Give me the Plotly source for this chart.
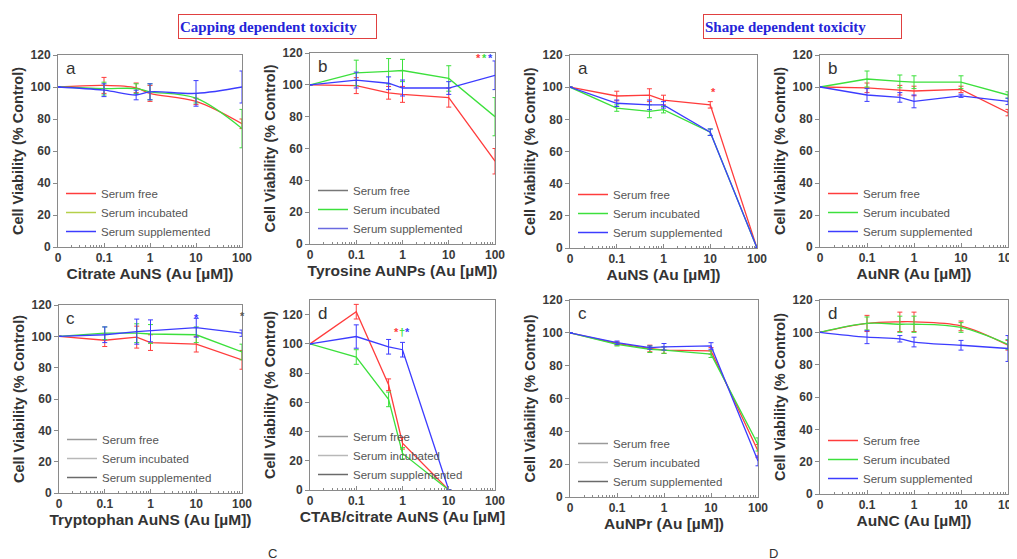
import math
import plotly.graph_objects as go

W, H = 1017, 559
OFF = 8  # page body margin of the html page

# ---------------- data ----------------
doses = [0, 0.1, 0.5, 1, 10, 100]
doses_ctab = [0, 0.1, 0.5, 1, 10]
tick_vals_labels = ["0", "0.1", "1", "10", "100"]
series_names = ["Serum free", "Serum incubated", "Serum supplemented"]
series_colors = ["#ff3c3c", "#3ce03c", "#3c3cff"]

# Capping dependent toxicity
citrate_free = [100, 101, 99.5, 96, 91, 77]
citrate_inc = [100, 99, 99, 97, 93, 74]
citrate_sup = [100, 98, 95, 97, 96, 100]
citrate_free_err = [0, 5, 3, 5, 2, 3]
citrate_inc_err = [0, 4, 3, 5, 3, 12]
citrate_sup_err = [0, 4, 3, 5, 8, 10]

tyrosine_free = [100, 99.5, 95, 94, 92, 52]
tyrosine_inc = [100, 107.5, 108.5, 109, 104, 80]
tyrosine_sup = [100, 103, 101, 98, 98, 106]
tyrosine_free_err = [0, 5, 4, 5, 6, 8]
tyrosine_inc_err = [0, 8, 8, 7, 8, 12]
tyrosine_sup_err = [0, 5, 4, 5, 4, 9]

tryptophan_free = [100, 97.5, 99.5, 96, 95, 85]
tryptophan_inc = [100, 102, 102, 101.5, 101, 90]
tryptophan_sup = [100, 101, 103, 103.5, 105.5, 102]
tryptophan_free_err = [0, 4, 7, 5, 5, 6]
tryptophan_inc_err = [0, 4, 6, 6, 5, 5]
tryptophan_sup_err = [0, 5, 8, 7, 6, 2]

ctab_free = [100, 122, 72, 32, 0]
ctab_inc = [100, 91, 62, 25, 0]
ctab_sup = [100, 105, 98, 96, 0]
ctab_free_err = [0, 5, 4, 4, 0]
ctab_inc_err = [0, 5, 5, 4, 0]
ctab_sup_err = [0, 8, 5, 5, 0]

# Shape dependent toxicity
auns_free = [100, 94.5, 95, 92, 89, 0]
auns_inc = [100, 87, 85, 86, 72, 0]
auns_sup = [100, 90, 89, 89, 72, 0]
auns_free_err = [0, 3, 4, 3, 2, 0]
auns_inc_err = [0, 2, 4, 2, 2, 0]
auns_sup_err = [0, 2, 3, 2, 2, 0]

aunr_free = [100, 99.5, 98, 97.5, 98.5, 84]
aunr_inc = [100, 105, 103.5, 103, 103, 95]
aunr_sup = [100, 95, 93.5, 91, 94.5, 91]
aunr_free_err = [0, 3, 3, 3, 2, 2]
aunr_inc_err = [0, 5, 4, 4, 4, 2]
aunr_sup_err = [0, 4, 3, 4, 1, 2]

aunpr_free = [100, 93.5, 90.5, 89.5, 89, 28]
aunpr_inc = [100, 93, 90, 89.5, 87, 32]
aunpr_sup = [100, 94, 91, 91.5, 92, 22]
aunpr_free_err = [0, 1, 2, 2, 2, 4]
aunpr_inc_err = [0, 1, 2, 2, 2, 4]
aunpr_sup_err = [0, 1, 1, 2, 2, 3]

aunc_free = [100, 105.5, 106.5, 106.5, 104, 92]
aunc_inc = [100, 105.5, 105, 105, 103, 92.5]
aunc_sup = [100, 97, 96, 94, 92, 90]
aunc_free_err = [0, 5, 6, 6, 3, 3]
aunc_inc_err = [0, 4, 5, 5, 3, 3]
aunc_sup_err = [0, 4, 2, 3, 3, 8]

# significance marks: (panel index, dose, viability, symbol, colour)
sig_marks = [
    (1, 45, 117, "*", "#ff3c3c"), (1, 60, 117, "*", "#3ce03c"), (1, 78, 117, "*", "#3c3cff"),
    (2, 12, 97, "*", "#ff3c3c"),
    (4, 10, 112, "*", "#3c3cff"), (4, 100, 113, "*", "#555555"),
    (5, 0.76, 108, "*", "#ff3c3c"), (5, 0.98, 108, "\u2020", "#3ce03c"), (5, 1.26, 108, "*", "#3c3cff"),
]

# ---------------- panel definitions ----------------
gray_leg = ["#9a9a9a", "#b8b8b8", "#6a6a6a"]
panels = [
    dict(x=doses, ys=[citrate_free, citrate_inc, citrate_sup],
         es=[citrate_free_err, citrate_inc_err, citrate_sup_err],
         title="Citrate AuNS (Au [\u00b5M])", letter="a", spline=True,
         leg=["#ff3c3c", "#b5d04a", "#3c3cff"], yr=[0, 120], box=(58, 242, 55, 247)),
    dict(x=doses, ys=[tyrosine_free, tyrosine_inc, tyrosine_sup],
         es=[tyrosine_free_err, tyrosine_inc_err, tyrosine_sup_err],
         title="Tyrosine AuNPs (Au [\u00b5M])", letter="b", spline=False,
         leg=["#777777", "#3ce03c", "#6a6ae0"], yr=[0, 120], box=(310, 495, 53, 244)),
    dict(x=doses, ys=[auns_free, auns_inc, auns_sup],
         es=[auns_free_err, auns_inc_err, auns_sup_err],
         title="AuNS (Au [\u00b5M])", letter="a", spline=False,
         leg=series_colors, yr=[0, 120], box=(570, 757, 55, 248)),
    dict(x=doses, ys=[aunr_free, aunr_inc, aunr_sup],
         es=[aunr_free_err, aunr_inc_err, aunr_sup_err],
         title="AuNR (Au [\u00b5M])", letter="b", spline=False,
         leg=series_colors, yr=[0, 120], box=(820, 1008, 55, 247)),
    dict(x=doses, ys=[tryptophan_free, tryptophan_inc, tryptophan_sup],
         es=[tryptophan_free_err, tryptophan_inc_err, tryptophan_sup_err],
         title="Tryptophan AuNS (Au [\u00b5M])", letter="c", spline=False,
         leg=gray_leg, yr=[0, 120], box=(59, 242, 305, 493)),
    dict(x=doses_ctab, ys=[ctab_free, ctab_inc, ctab_sup],
         es=[ctab_free_err, ctab_inc_err, ctab_sup_err],
         title="CTAB/citrate AuNS (Au [\u00b5M]", letter="d", spline=False,
         leg=gray_leg, yr=[0, 130], box=(310, 495, 300, 490)),
    dict(x=doses, ys=[aunpr_free, aunpr_inc, aunpr_sup],
         es=[aunpr_free_err, aunpr_inc_err, aunpr_sup_err],
         title="AuNPr (Au [\u00b5M])", letter="c", spline=False,
         leg=gray_leg, yr=[0, 120], box=(570, 758, 300, 497)),
    dict(x=doses, ys=[aunc_free, aunc_inc, aunc_sup],
         es=[aunc_free_err, aunc_inc_err, aunc_sup_err],
         title="AuNC (Au [\u00b5M])", letter="d", spline=True,
         leg=["#ff3c3c", "#3ce03c", "#3c3cff"], yr=[0, 120], box=(820, 1008, 300, 494)),
]

FONT = "Liberation Sans"
AX = "#8a8a8a"
tick_pos = [0.01, 0.1, 1, 10, 100]
minor_pos = [m * 10 ** e for e in range(-2, 2) for m in range(2, 10)]


def px_x(v):
    return (v - OFF) / W


def px_y(v):
    return 1 - (v - OFF) / H


fig = go.Figure()
layout = dict(width=W, height=H, paper_bgcolor="white", plot_bgcolor="white",
              margin=dict(l=0, r=0, t=0, b=0, autoexpand=False),
              font=dict(family=FONT, color="#333"), annotations=[])

for i, p in enumerate(panels):
    n = i + 1
    sfx = "" if n == 1 else str(n)
    xa, ya = "x" + sfx, "y" + sfx
    legname = "legend" + sfx
    xpos = [d if d > 0 else 0.01 for d in p["x"]]
    for k in range(3):
        fig.add_trace(go.Scatter(
            x=xpos, y=p["ys"][k], mode="lines", xaxis=xa, yaxis=ya,
            name=series_names[k], showlegend=False,
            line=dict(color=series_colors[k], width=1.3,
                      shape="spline" if p["spline"] else "linear"),
            error_y=dict(type="data", array=p["es"][k], color=series_colors[k],
                         thickness=1, width=2.5),
            cliponaxis=False))
    for k in range(3):
        fig.add_trace(go.Scatter(
            x=[None], y=[None], mode="lines", xaxis=xa, yaxis=ya,
            name=series_names[k], legend=legname, showlegend=True,
            line=dict(color=p["leg"][k], width=1.5)))
    l, r, t, b = p["box"]
    layout["xaxis" + sfx] = dict(
        domain=[px_x(l), px_x(r)], anchor=ya, type="log", range=[-2, 2], automargin=False,
        tickmode="array", tickvals=tick_pos, ticktext=tick_vals_labels,
        ticks="inside", ticklen=4, tickcolor=AX, showline=True, linecolor=AX,
        linewidth=1, mirror=True, showgrid=False, zeroline=False,
        tickfont=dict(family=FONT, size=12, color="#3a3a3a", weight="bold"),
        minor=dict(tickmode="array", tickvals=minor_pos, ticks="inside",
                   ticklen=2, tickcolor=AX, showgrid=False),
        title=dict(text=p["title"], standoff=1,
                   font=dict(family=FONT, size=15.5, color="#333", weight="bold")))
    layout["yaxis" + sfx] = dict(
        domain=[px_y(b), px_y(t)], anchor=xa, range=p["yr"], automargin=False,
        tickmode="array", tickvals=[0, 20, 40, 60, 80, 100, 120],
        ticks="outside", ticklen=4, tickcolor=AX, showline=True, linecolor=AX,
        linewidth=1, mirror=True, showgrid=False, zeroline=False,
        tickfont=dict(family=FONT, size=12, color="#3a3a3a", weight="bold"),
        title=dict(text="Cell Viability (% Control)", standoff=3,
                   font=dict(family=FONT, size=14.5, color="#333", weight="bold")))
    layout[legname] = dict(
        x=px_x(l + 3), y=px_y(b - 1), xanchor="left", yanchor="bottom",
        bgcolor="rgba(0,0,0,0)", font=dict(family=FONT, size=11.5, color="#555"),
        tracegroupgap=0, itemwidth=30)
    layout["annotations"].append(dict(
        text=p["letter"], xref=xa + " domain", yref=ya + " domain", x=0.03, y=0.99,
        xanchor="left", yanchor="top", showarrow=False,
        font=dict(family=FONT, size=17, color="#333")))

for (pi, dx, vy, sym, col) in sig_marks:
    sfx = "" if pi == 0 else str(pi + 1)
    layout["annotations"].append(dict(
        text=sym, xref="x" + sfx, yref="y" + sfx, x=math.log10(dx), y=vy,
        showarrow=False, font=dict(family=FONT, size=11, color=col, weight="bold")))

# section titles
for txt, x0, wbox in [("Capping dependent toxicity", 178, 199),
                      ("Shape dependent toxicity", 703, 199)]:
    layout["annotations"].append(dict(
        text=txt, xref="paper", yref="paper", x=px_x(x0), y=px_y(14),
        xanchor="left", yanchor="top", showarrow=False, width=wbox - 4, height=21,
        align="left", bordercolor="#e04040", borderwidth=1, borderpad=1,
        font=dict(family="Liberation Serif", size=15, color="#2424d8", weight="bold")))

for txt, x0 in [("C", 272), ("D", 773)]:
    layout["annotations"].append(dict(
        text=txt, xref="paper", yref="paper", x=px_x(x0), y=px_y(544),
        xanchor="center", yanchor="top", showarrow=False,
        font=dict(family=FONT, size=13, color="#333")))

fig.update_layout(**layout)
fig.write_html("out.html")
